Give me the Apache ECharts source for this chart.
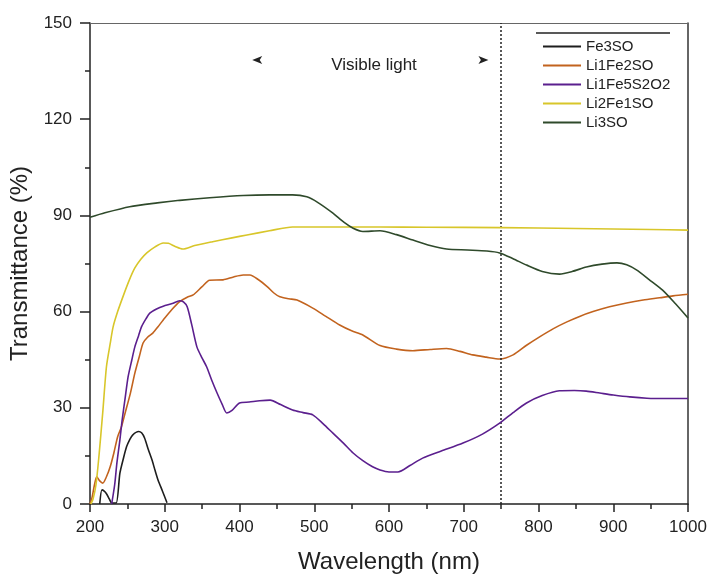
<!DOCTYPE html>
<html>
<head>
<meta charset="utf-8">
<script src="https://cdn.jsdelivr.net/npm/echarts@6/dist/echarts.min.js"></script>
<style>
  html, body { margin: 0; padding: 0; background: #fff; }
  #chart { width: 709px; height: 575px; }
</style>
</head>
<body>
<div id="chart"></div>
<script>
// UV-Vis transmittance spectra, [wavelength (nm), transmittance (%)]
const seriesNames = ['Fe3SO', 'Li1Fe2SO', 'Li1Fe5S2O2', 'Li2Fe1SO', 'Li3SO'];

const fe3so = [[213,0],[216,4.4],[219,4],[222,3.2],[226,1.5],[229,0.3],[235,0.3],[240,9.6],[245,14.5],[249,17.9],
  [253,20],[257,21.5],[265,22.6],[269,22.2],[273,20.6],[278,17],[283,13.7],[287,10.5],[291,7.5],[297,4],[303,0.4]];

const li1fe2so = [[200,0],[203,2.3],[206,6],[209,8.5],[213,7.2],[217,6.5],[222,8.5],[227,11.6],[232,16],[237,21],
  [242,24],[247,28.4],[254,34.5],[260,40.8],[266,46],[271,50.2],[277,52],[284,53.3],[291,55.3],[298,57.4],
  [309,60.5],[320,63.1],[330,64.5],[338,65.2],[350,67.8],[360,69.8],[378,69.9],[392,70.8],[405,71.4],[414,71.4],
  [425,70],[437,67.8],[446,65.8],[454,64.6],[466,64],[477,63.6],[498,61.1],[515,58.6],[534,55.8],[550,54],
  [565,52.7],[588,49.4],[610,48.3],[632,47.8],[655,48.2],[677,48.5],[695,47.6],[712,46.5],[730,45.8],[748,45.2],
  [766,46.5],[784,49.5],[802,52.2],[820,54.7],[838,56.8],[855,58.5],[873,60],[895,61.5],[918,62.7],[940,63.6],
  [962,64.3],[980,64.9],[1000,65.4]];

const li1fe5s2o2 = [[229,0],[233,6],[236,12.8],[240,20],[243,26.2],[247,33],[251,39.7],[256,45],[260,49],[265,52.5],
  [269,55.3],[275,57.8],[280,59.5],[289,60.8],[298,61.7],[310,62.5],[320,63.4],[325,63],[330,61.5],[336,56],
  [343,49],[350,45.5],[356,42.8],[363,38.5],[370,34.6],[377,31],[383,28.4],[390,29.2],[400,31.5],[413,31.8],
  [427,32.2],[441,32.4],[455,31],[471,29.3],[485,28.5],[498,27.8],[512,25],[525,22.1],[539,19],[552,15.9],
  [565,13.5],[578,11.6],[588,10.6],[600,10],[612,10],[628,12],[645,14.3],[670,16.5],[699,19],[725,21.8],
  [748,25.2],[766,28.5],[784,31.5],[805,33.8],[828,35.3],[848,35.4],[864,35.2],[882,34.6],[900,34],[922,33.4],
  [945,33],[970,32.9],[1000,32.9]];

const li2fe1so = [[201,0],[204,1.5],[208,6],[212,15],[217,28.4],[222,42.8],[227,50],[231,55.3],[237,60],[244,64.6],
  [252,69.5],[260,73.6],[268,76.3],[276,78.3],[287,80.2],[298,81.4],[305,81.3],[314,80.3],[324,79.5],[340,80.6],
  [364,81.8],[390,83],[410,83.9],[440,85.2],[471,86.4],[500,86.4],[588,86.4],[650,86.3],[750,86.2],[850,85.9],
  [950,85.6],[1000,85.4]];

const li3so = [[200,89.4],[220,90.8],[253,92.7],[290,93.9],[320,94.7],[360,95.5],[405,96.2],[440,96.4],[471,96.4],
  [490,95.8],[505,94],[525,90.7],[540,87.8],[552,86],[565,85],[588,85.2],[610,84],[632,82.3],[655,80.6],[677,79.5],
  [705,79.2],[731,78.9],[748,78.3],[766,76.5],[784,74.5],[805,72.5],[828,71.7],[845,72.5],[864,73.9],[885,74.8],
  [905,75.2],[918,74.6],[931,73],[948,70],[966,66.7],[983,62.5],[1000,58]];

const seriesData = [fe3so, li1fe2so, li1fe5s2o2, li2fe1so, li3so];
const seriesColors = ['#1e1e1e', '#c2631e', '#5b1f8e', '#d8c62a', '#2f4a2b'];

// visible-light boundary and arrow marks
const visibleEdge = 750;
const arrowMarks = [[417, 138.5], [733, 138.5]];

const xTicks = { min: 200, max: 1000, interval: 100 };
const yTicks = { min: 0, max: 150, interval: 30 };

const font = 'Liberation Sans, Arial, sans-serif';

const chart = echarts.init(document.getElementById('chart'), null, { renderer: 'canvas' });

const series = seriesNames.map((name, i) => ({
  name: name,
  type: 'line',
  data: seriesData[i],
  symbol: 'none',
  smooth: 0.25,
  color: seriesColors[i],
  lineStyle: { width: 1.6, color: seriesColors[i] },
  z: 3 + i
}));

series[0].markLine = {
  silent: true,
  symbol: 'none',
  label: { show: false },
  lineStyle: { type: [2, 2], color: '#222', width: 1.5 },
  data: [{ xAxis: visibleEdge }]
};
series[0].markPoint = {
  silent: true,
  symbol: 'arrow',
  symbolSize: [6, 10],
  itemStyle: { color: '#222' },
  label: { show: false },
  data: [
    { coord: arrowMarks[0], symbolRotate: 90 },
    { coord: arrowMarks[1], symbolRotate: -90 }
  ]
};

chart.setOption({
  backgroundColor: '#fff',
  animation: false,
  textStyle: { fontFamily: font },
  grid: { left: 90, right: 21, top: 23, bottom: 71, containLabel: false, outerBoundsMode: 'none' },
  legend: {
    orient: 'vertical',
    left: 537,
    top: 34,
    itemWidth: 38,
    itemHeight: 12,
    itemGap: 4,
    data: seriesNames,
    itemStyle: { opacity: 0 },
    textStyle: { fontSize: 15, color: '#222', fontFamily: font }
  },
  graphic: [
    {
      type: 'text',
      x: 374,
      y: 65,
      style: {
        text: 'Visible light', fontSize: 17, fill: '#222', fontFamily: font,
        align: 'center', verticalAlign: 'middle'
      }
    },
    {
      type: 'line',
      shape: { x1: 536, y1: 33, x2: 670, y2: 33 },
      style: { stroke: '#222', lineWidth: 1.5 }
    }
  ],
  xAxis: [
    {
      type: 'value',
      min: xTicks.min, max: xTicks.max, interval: xTicks.interval,
      name: 'Wavelength (nm)',
      nameLocation: 'middle',
      nameGap: 46,
      nameTextStyle: { fontSize: 24, color: '#222', fontFamily: font },
      axisLine: { show: true, onZero: false, lineStyle: { color: '#222', width: 1.5 } },
      axisTick: { show: true, length: 8, lineStyle: { color: '#222', width: 1.5 } },
      minorTick: { show: true, splitNumber: 2, length: 5, lineStyle: { color: '#222', width: 1.5 } },
      axisLabel: { fontSize: 17, color: '#222', margin: 15, fontFamily: font, formatter: v => String(v) },
      splitLine: { show: false }
    },
    {
      type: 'value',
      position: 'top',
      min: xTicks.min, max: xTicks.max,
      axisLine: { show: true, onZero: false, lineStyle: { color: '#666', width: 1 } },
      axisTick: { show: false },
      axisLabel: { show: false },
      splitLine: { show: false }
    }
  ],
  yAxis: [
    {
      type: 'value',
      min: yTicks.min, max: yTicks.max, interval: yTicks.interval,
      name: 'Transmittance (%)',
      nameLocation: 'middle',
      nameGap: 56,
      nameRotate: 90,
      nameTextStyle: { fontSize: 24, color: '#222', fontFamily: font },
      axisLine: { show: true, onZero: false, lineStyle: { color: '#222', width: 1.5 } },
      axisTick: { show: true, length: 10, lineStyle: { color: '#222', width: 1.5 } },
      minorTick: { show: true, splitNumber: 2, length: 5, lineStyle: { color: '#222', width: 1.5 } },
      axisLabel: { fontSize: 17, color: '#222', margin: 18, fontFamily: font },
      splitLine: { show: false }
    },
    {
      type: 'value',
      position: 'right',
      min: yTicks.min, max: yTicks.max,
      axisLine: { show: true, onZero: false, lineStyle: { color: '#333', width: 1.5 } },
      axisTick: { show: false },
      axisLabel: { show: false },
      splitLine: { show: false }
    }
  ],
  series: series
});
</script>
</body>
</html>
